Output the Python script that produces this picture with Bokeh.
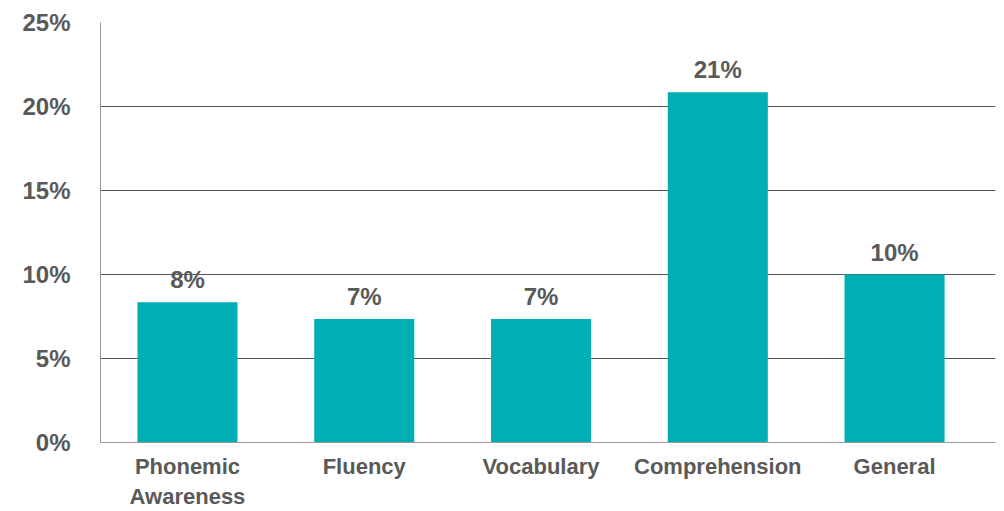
from bokeh.plotting import figure
from bokeh.models import ColumnDataSource, LabelSet, Range1d, FixedTicker
from bokeh.core.properties import value
from bokeh.embed import file_html
from bokeh.resources import INLINE

categories = ["Phonemic\nAwareness", "Fluency", "Vocabulary", "Comprehension", "General"]
values = [8.35, 7.35, 7.35, 20.85, 10.0]
value_labels = ["8%", "7%", "7%", "21%", "10%"]
y_ticks = [0, 5, 10, 15, 20, 25]
y_tick_labels = ["0%", "5%", "10%", "15%", "20%", "25%"]

FONT = "Liberation Sans"
GRAY = "#595959"
TEAL = "#00AFB4"

xs = list(range(len(categories)))
src = ColumnDataSource(dict(x=xs, top=values, lab=value_labels))

p = figure(width=996, height=511, output_backend="svg", toolbar_location=None,
           x_range=Range1d(-0.492, 4.571), y_range=Range1d(0, 25),
           min_border_left=100, min_border_right=1, min_border_top=22, min_border_bottom=68)
p.outline_line_color = None
p.background_fill_color = "white"

p.vbar(x="x", top="top", width=0.566, bottom=0, source=src, color=TEAL, line_color=None)

labels = LabelSet(x="x", y="top", text="lab", source=src, text_align="center",
                  text_baseline="bottom", y_offset=9, text_font=value(FONT),
                  text_font_size="24px", text_font_style="bold", text_color=GRAY)
p.add_layout(labels)

p.xgrid.grid_line_color = None
p.ygrid.grid_line_color = "#555555"
p.ygrid.grid_line_width = 1
p.yaxis.ticker = FixedTicker(ticks=y_ticks)
p.yaxis.major_label_overrides = {t: l for t, l in zip(y_ticks, y_tick_labels)}
p.xaxis.ticker = FixedTicker(ticks=xs)
p.xaxis.major_label_overrides = {x: c for x, c in zip(xs, categories)}

for ax in (p.xaxis, p.yaxis):
    ax.axis_line_color = "#999999"
    ax.major_tick_line_color = None
    ax.minor_tick_line_color = None
    ax.major_label_text_font = FONT
    ax.major_label_text_font_style = "bold"
    ax.major_label_text_color = GRAY
p.yaxis.major_label_text_font_size = "24px"
p.yaxis.major_label_standoff = 24
p.xaxis.major_label_text_font_size = "22px"
p.xaxis.major_label_standoff = 5
p.xaxis.major_label_text_line_height = 1.2

open("out.html", "w").write(file_html(p, INLINE))
